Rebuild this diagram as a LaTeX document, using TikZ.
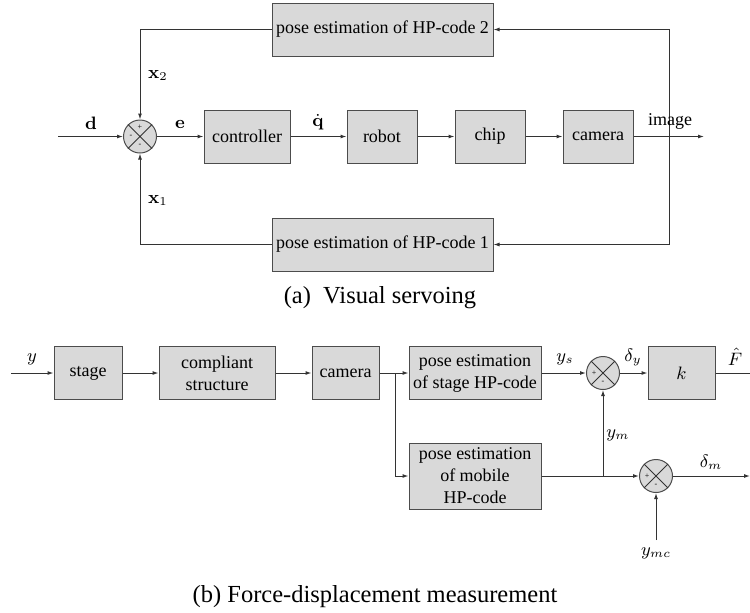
\documentclass[tikz,border=0pt]{standalone}
\usepackage[no-math]{fontspec}
\setmainfont{Liberation Serif}
\usetikzlibrary{arrows.meta}
\begin{document}
\begin{tikzpicture}[x=0.5pt,y=-0.5pt,
  blk/.style={draw=black!70, fill=black!15, line width=0.5pt, inner sep=1pt, align=center,
    font=\fontsize{9}{11}\selectfont, minimum height=26.5pt},
  sumc/.style={circle, draw=black!70, fill=black!15, line width=0.5pt, minimum size=16.5pt, inner sep=0pt},
  sig/.style={font=\fontsize{4}{4}\selectfont, inner sep=0pt},
  lbl/.style={font=\fontsize{9}{10}\selectfont, inner sep=0pt},
  conn/.style={line width=0.5pt, draw=black!80},
  arr/.style={conn, -{Latex[length=3pt,width=2pt]}},
  captxt/.style={font=\fontsize{12.25}{14}\selectfont, inner sep=0pt}
]
\useasboundingbox (0,0) rectangle (750,612);

% ---------- (a) Visual servoing ----------
\node[sumc] (s1) at (140,136.5) {};
\draw[conn] (s1.45) -- (s1.225) (s1.135) -- (s1.315);
\node[sig] (s1t) at ([yshift=4.5pt]s1.center) {+};
\node[sig] (s1l) at ([xshift=-4.5pt]s1.center) {-};
\node[sig] (s1b) at ([yshift=-4.5pt]s1.center) {-};
\coordinate (in1) at (58,136.5);
\node[blk, minimum width=43pt] (ctrl) at (247,136.5) {controller};
\node[blk, minimum width=35pt] (robot) at (382,136.5) {robot};
\node[blk, minimum width=35pt] (chip) at (490,136.5) {chip};
\node[blk, minimum width=35pt] (cam) at (598,136.5) {camera};
\coordinate (br) at (669,136.5);
\coordinate (out1) at (704,136.5);
\node[blk, minimum width=110.5pt] (pe2) at (382.5,29.5) {pose estimation of HP-code 2};
\node[blk, minimum width=110.5pt] (pe1) at (382.5,244.5) {pose estimation of HP-code 1};

\draw[arr] (in1) -- (s1.west);
\draw[arr] (s1.east) -- (ctrl.west);
\draw[arr] (ctrl.east) -- (robot.west);
\draw[arr] (robot.east) -- (chip.west);
\draw[arr] (chip.east) -- (cam.west);
\draw[arr] (cam.east) -- (out1);
\draw[arr] (br) |- (pe2.east);
\draw[arr] (br) |- (pe1.east);
\draw[arr] (pe2.west) -| (s1.north);
\draw[arr] (pe1.west) -| (s1.south);

\node[lbl] (ld) at (91,123) {$\mathbf{d}$};
\node[lbl] (le) at (180,124) {$\mathbf{e}$};
\node[lbl] (lq) at (318,122) {$\dot{\mathbf{q}}$};
\node[lbl] (limg) at (670,121) {image};
\node[lbl] (lx2) at (158,75) {$\mathbf{x}_2$};
\node[lbl] (lx1) at (158,200) {$\mathbf{x}_1$};
\node[captxt] (capa) at (380,298) {(a)\ \ Visual servoing};

% ---------- (b) Force-displacement measurement ----------
\coordinate (in2) at (11,373);
\node[blk, minimum width=34pt] (stage) at (88,373) {stage};
\node[blk, minimum width=58pt] (comp) at (217,373) {compliant\\structure};
\node[blk, minimum width=33.5pt] (cam2) at (345.5,373) {camera};
\node[blk, minimum width=66pt] (pes) at (475,373) {pose estimation\\of stage HP-code};
\node[sumc] (s2) at (603,373) {};
\draw[conn] (s2.45) -- (s2.225) (s2.135) -- (s2.315);
\node[sig] (s2l) at ([xshift=-4.5pt]s2.center) {+};
\node[sig] (s2b) at ([yshift=-4.5pt]s2.center) {-};
\node[blk, minimum width=33.5pt] (kb) at (681.5,373) {$k$};
\coordinate (out2) at (750,373);
\node[blk, minimum width=66pt, minimum height=33pt] (pem) at (475,476) {pose estimation\\of mobile\\HP-code};
\coordinate (br2) at (395,373);
\coordinate (jm) at (603,476);
\node[sumc] (s3) at (656,476) {};
\draw[conn] (s3.45) -- (s3.225) (s3.135) -- (s3.315);
\node[sig] (s3l) at ([xshift=-4.5pt]s3.center) {+};
\node[sig] (s3b) at ([yshift=-4.5pt]s3.center) {-};
\coordinate (out3) at (750,476);
\coordinate (ymcpt) at (656,540);

\draw[arr] (in2) -- (stage.west);
\draw[arr] (stage.east) -- (comp.west);
\draw[arr] (comp.east) -- (cam2.west);
\draw[arr] (cam2.east) -- (pes.west);
\draw[arr] (br2) |- (pem.west);
\draw[arr] (pes.east) -- (s2.west);
\draw[arr] (s2.east) -- (kb.west);
\draw[conn] (kb.east) -- (out2);
\draw[arr] (pem.east) -- (s3.west);
\draw[arr] (jm) -- (s2.south);
\draw[arr] (s3.east) -- (out3);
\draw[arr] (ymcpt) -- (s3.south);

\node[lbl] (ly) at (32,359) {$y$};
\node[lbl] (lys) at (565,359) {$y_s$};
\node[lbl] (ldy) at (633,357) {$\delta_y$};
\node[lbl] (lF) at (735,357) {$\hat{F}$};
\node[lbl] (lym) at (618,435) {$y_m$};
\node[lbl] (ldm) at (711,462) {$\delta_m$};
\node[lbl] (lymc) at (656,553) {$y_{mc}$};
\node[captxt] (capb) at (375,597) {(b)\ Force-displacement measurement};
\end{tikzpicture}
\end{document}
